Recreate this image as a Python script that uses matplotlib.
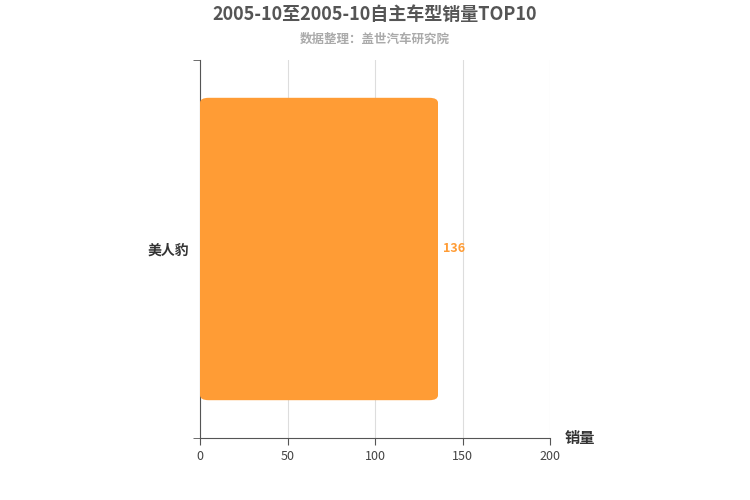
import matplotlib
matplotlib.use("Agg")
import matplotlib.pyplot as plt
from matplotlib.patches import FancyBboxPatch

plt.rcParams['font.family'] = ['Noto Sans CJK SC', 'DejaVu Sans']

categories = ["美人豹"]
sales = [136]
xticks = [0, 50, 100, 150, 200]

fig = plt.figure(figsize=(7.5, 5), dpi=100)
ax = fig.add_axes([200/750, 62/500, 350/750, 378/500])

bar_h = 0.8
for i, (cat, v) in enumerate(zip(categories, sales)):
    ax.add_patch(FancyBboxPatch((0, i - bar_h/2), v, bar_h,
                                boxstyle="round,pad=0,rounding_size=5",
                                mutation_aspect=0.8/303*1.0*1,
                                facecolor="#ff9c35", edgecolor="none", zorder=3))
    ax.text(v + 3, i, str(v), va="center", ha="left", fontsize=9,
            color="#ff9c35", fontweight="bold")

ax.set_xlim(0, 200)
ax.set_ylim(-0.5, len(categories) - 0.5)
ax.set_xticks(xticks)
ax.set_xticklabels([str(t) for t in xticks], fontsize=9, color="#444")
ax.set_yticks(range(len(categories)))
ax.set_yticklabels(categories, fontsize=10, fontweight="bold", color="#333")
ax.set_yticks([-0.5, 0.5], minor=True)
ax.tick_params(axis="y", which="major", length=0, pad=8)
ax.tick_params(axis="y", which="minor", length=5, color="#555")
ax.tick_params(axis="x", length=5, color="#555")
ax.grid(axis="x", color="#dddddd", linewidth=0.8, zorder=0)
for s in ["top", "right"]:
    ax.spines[s].set_visible(False)
ax.spines["left"].set_color("#555")
ax.spines["bottom"].set_color("#555")

fig.text(0.5, 0.972, "2005-10至2005-10自主车型销量TOP10", ha="center", va="center",
         fontsize=13, fontweight="bold", color="#555")
fig.text(0.5, 0.922, "数据整理：盖世汽车研究院", ha="center", va="center",
         fontsize=9, fontweight="bold", color="#aaa")
fig.text(580/750, 1 - 438/500, "销量", ha="center", va="center",
         fontsize=11, fontweight="bold", color="#333")

fig.savefig("out.png", dpi=100)
